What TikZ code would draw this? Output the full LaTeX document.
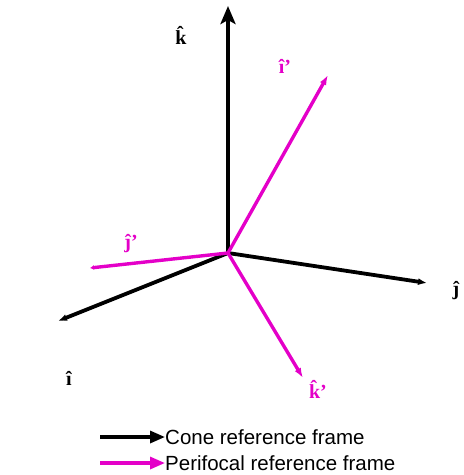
\documentclass[tikz,border=0pt]{standalone}
\usepackage{fontspec}
\usetikzlibrary{arrows.meta}
\newfontfamily\legendfont{Liberation Sans}
\setmainfont{Liberation Serif}
\definecolor{perimag}{RGB}{228,0,200}

\begin{document}
\begin{tikzpicture}[x=1pt, y=-1pt,
  coneax/.style={line width=3.8pt, draw=black, -{Latex[length=9pt,width=7pt]}},
  periax/.style={line width=3.4pt, draw=perimag, -{Latex[length=10pt,width=7pt]}},
  axlabel/.style={font=\fontsize{20}{22}\selectfont\bfseries, inner sep=0pt},
  legarrow/.style={line width=3.2pt, -{Triangle[length=15pt,width=12pt]}},
  legtext/.style={anchor=west, inner sep=0pt, font=\legendfont\fontsize{20.5}{22}\selectfont}
]
\useasboundingbox (0,0) rectangle (464,475);

% origin and axis tips
\coordinate (O) at (228,253);
\coordinate (kt) at (228,6);
\coordinate (it) at (58,321);
\coordinate (jt) at (427,283);
\coordinate (ipt) at (328,75);
\coordinate (jpt) at (90,268);
\coordinate (kpt) at (303,378);

% cone frame
\draw [coneax, -{Stealth[length=18pt,width=15pt,inset=4pt]}] (O) -- (kt);
\draw [coneax] (O) -- (it);
\draw [coneax] (O) -- (jt);

% perifocal frame
\draw [periax] (O) -- (ipt);
\draw [periax, -{Latex[length=4pt,width=5pt]}] (O) -- (jpt);
\draw [periax] (O) -- (kpt);

% labels
\node (lk) [axlabel] at (181,35) {\^k};
\node (li) [axlabel] at (69,378) {\^{\i}};
\node (lj) [axlabel] at (456,291) {\^{\j}};
\node (lip) [axlabel, text=perimag] at (285,66) {\^{\i}’};
\node (ljp) [axlabel, text=perimag] at (131,244) {\^{\j}’};
\node (lkp) [axlabel, text=perimag] at (318,389) {\^k’};

% legend
\coordinate (c1) at (100,437);
\coordinate (c2) at (100,463);
\node (t1) [legtext] at (165,437) {Cone reference frame};
\node (t2) [legtext] at (165,463) {Perifocal reference frame};
\draw [legarrow] (c1) -- (t1.west);
\draw [legarrow, perimag] (c2) -- (t2.west);

\end{tikzpicture}
\end{document}
